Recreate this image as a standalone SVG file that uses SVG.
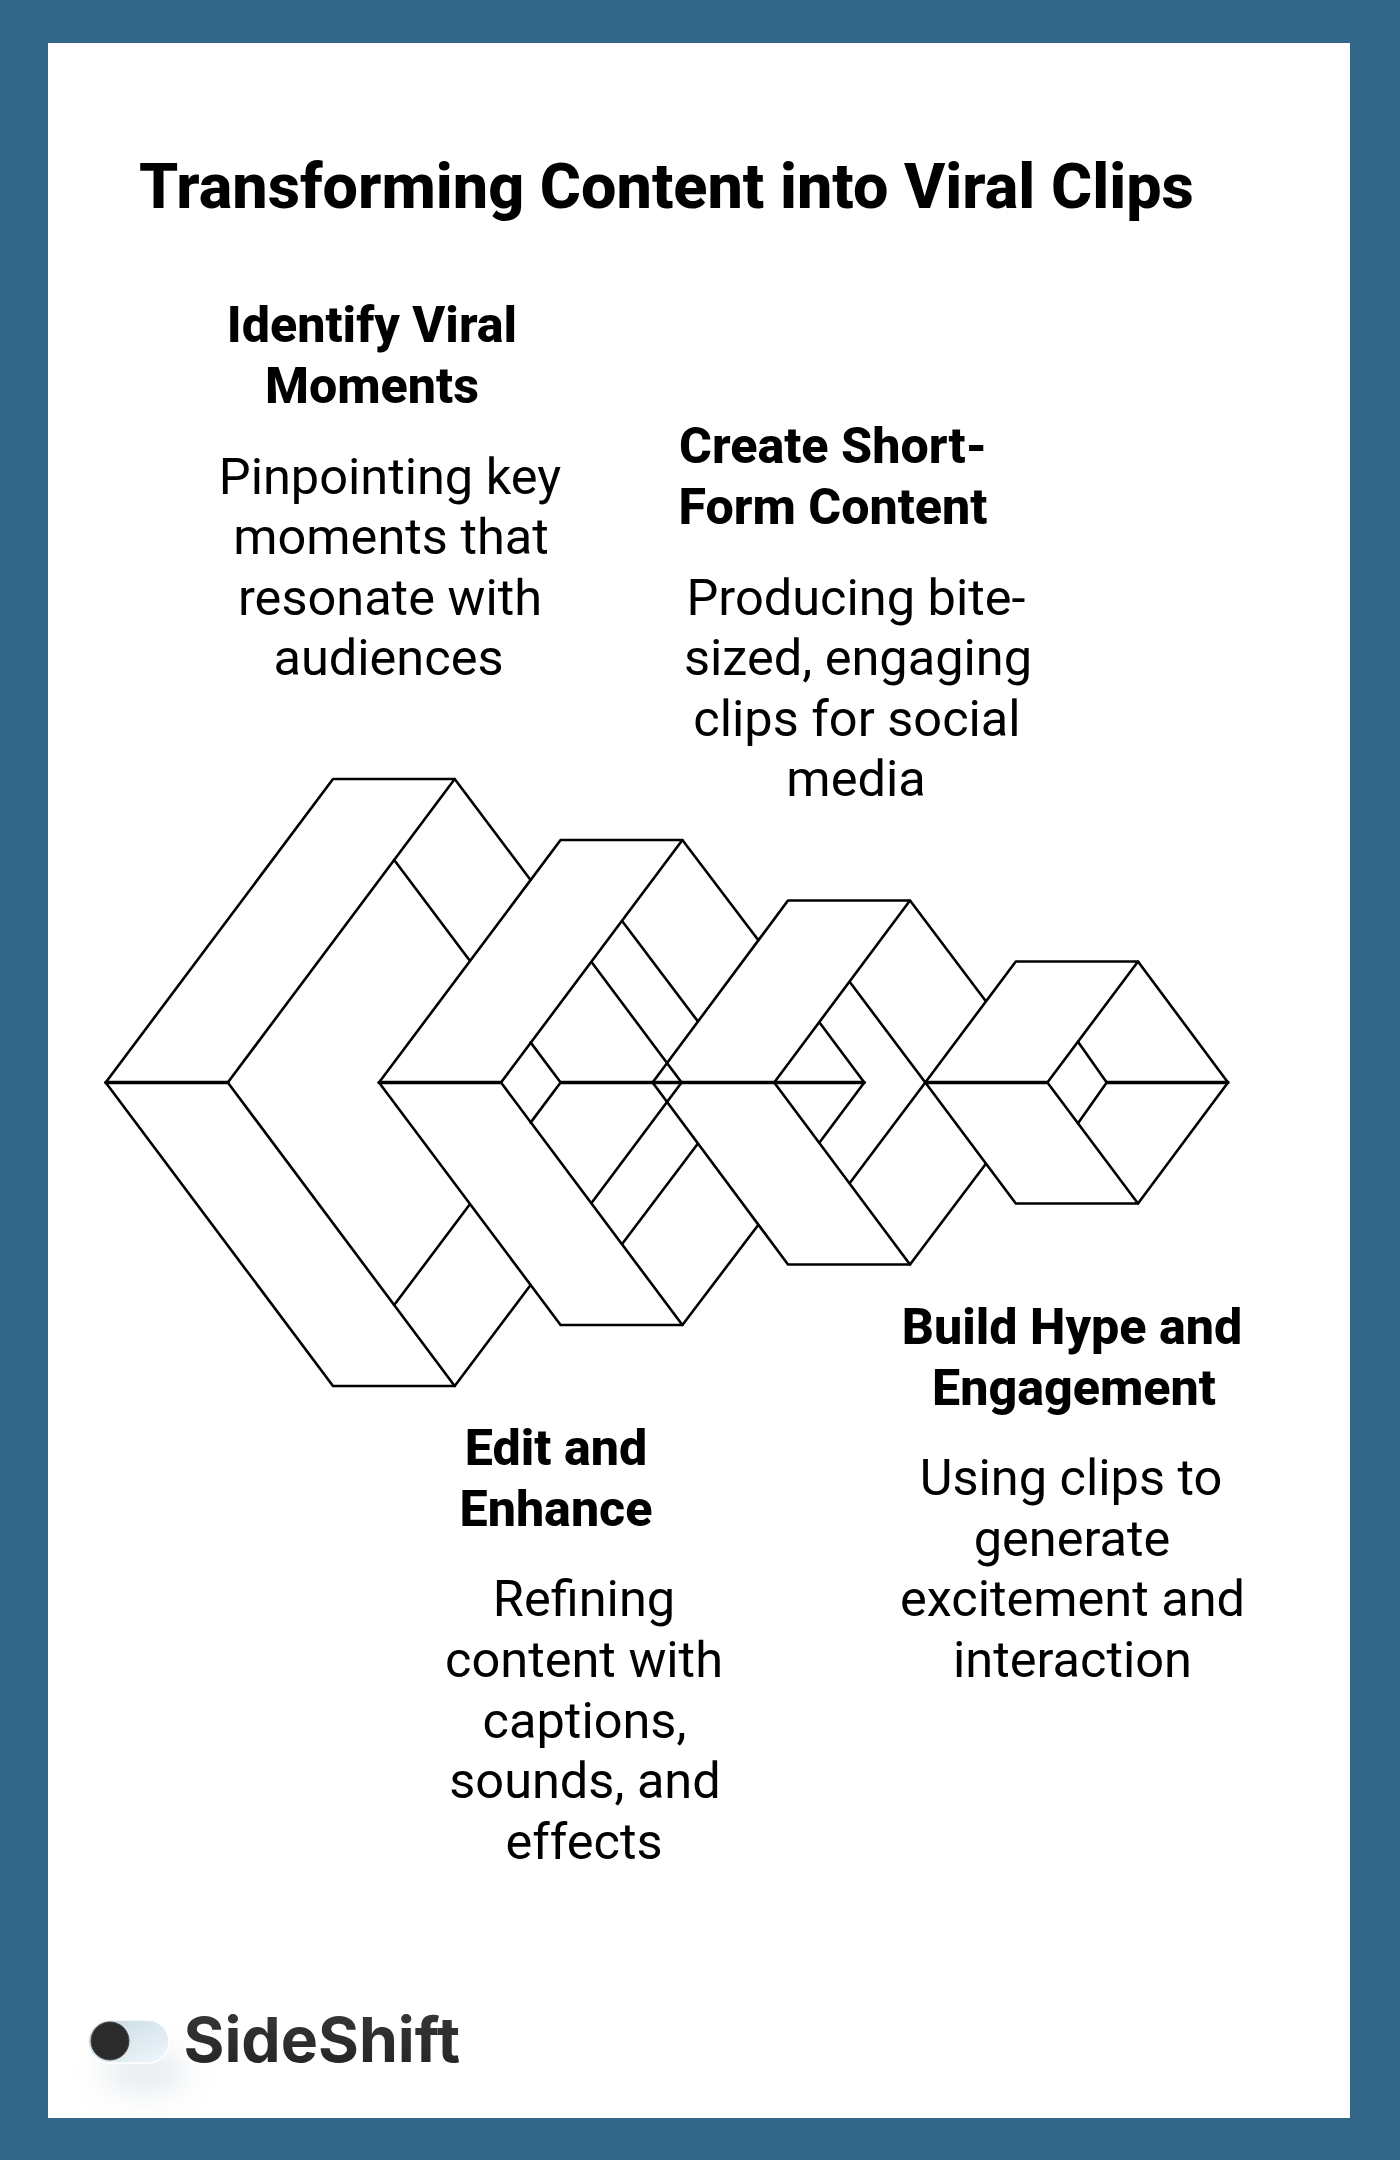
<svg xmlns="http://www.w3.org/2000/svg" width="1400" height="2160" viewBox="0 0 1400 2160">
<defs>
<style>
.h{font-family:Roboto,"Liberation Sans",sans-serif;font-weight:800;font-size:50.2px;fill:#000;text-anchor:middle}
.b{font-family:Roboto,"Liberation Sans",sans-serif;font-weight:400;font-size:50.5px;fill:#000;text-anchor:middle}
.t{font-family:Roboto,"Liberation Sans",sans-serif;font-weight:800;font-size:62.9px;fill:#000}
.l{fill:none;stroke:#000;stroke-width:2.6;stroke-linejoin:round;stroke-linecap:round}
.m{fill:none;stroke:#000;stroke-width:3.4;stroke-linecap:round}
</style>
<linearGradient id="tr" x1="0" y1="0" x2="1" y2="1"><stop offset="0" stop-color="#c6d8e3"/><stop offset="1" stop-color="#f0f7fb"/></linearGradient>
<linearGradient id="lg" x1="0" y1="0" x2="0" y2="1"><stop offset="0" stop-color="#3a3a3a"/><stop offset="1" stop-color="#222"/></linearGradient>
<filter id="bl" x="-80%" y="-80%" width="260%" height="260%"><feGaussianBlur stdDeviation="16"/></filter>
</defs>
<rect width="1400" height="2160" fill="#326789"/>
<rect x="48" y="43" width="1302" height="2075" fill="#fff"/>
<text id="title" class="t" x="139" y="208">Transforming Content into Viral Clips</text>
<g id="shape-1">
<path class="l" d="M227.8 1082.5L454.7 779H333L105.7 1082.5L333 1386H454.7L227.8 1082.5"/>
<path class="l" d="M454.7 779L530.6 880M394.2 860L469.3 960M454.7 1386L530.6 1285M394.2 1305L469.3 1205"/>
<path class="m" d="M105.7 1082.5H227.8"/>
</g>
<g id="shape-2">
<path class="l" d="M501 1082.5L682.4 840H560.6L379 1082.5L560.6 1325H682.4L501 1082.5"/>
<path class="l" d="M682.4 840L758.2 940M622.3 921.2L697.6 1021M591.5 962L681.6 1082.5L591.5 1203M530.6 1042.4L560.6 1082.5L530.6 1122.6M682.4 1325L758.2 1225M622.3 1243.8L697.6 1144"/>
<path class="m" d="M379 1082.5H501M560.6 1082.5H652.6"/>
</g>
<g id="shape-3">
<path class="l" d="M774.2 1082.5L910 900.5H788L652.6 1082.5L788 1264.5H910L774.2 1082.5"/>
<path class="l" d="M910 900.5L985.5 1000.7M850 982.3L925.3 1082.5L850 1182.7M819.7 1022.7L864.3 1082.5L819.7 1142.3M910 1264.5L985.5 1164.3"/>
<path class="m" d="M652.6 1082.5H864.3"/>
</g>
<g id="shape-4">
<path class="l" d="M1047.4 1082.5L1138 961.5H1015.8L925.3 1082.5L1015.8 1203.5H1138L1047.4 1082.5"/>
<path class="l" d="M1138 961.5L1228 1082.5L1138 1203.5M1078 1041.7L1106.7 1082.5L1078 1123.3"/>
<path class="m" d="M925.3 1082.5H1047.4M1106.7 1082.5H1228"/>
</g>
<g id="node-1">
<text class="h" x="372" y="341.5">Identify Viral</text>
<text class="h" x="372" y="402.5">Moments</text>
<text class="b" x="390" y="493.5">Pinpointing key</text>
<text class="b" x="391" y="554">moments that</text>
<text class="b" x="390" y="614.5">resonate with</text>
<text class="b" x="388.5" y="675">audiences</text>
</g>
<g id="node-2">
<text class="h" x="833" y="462.5">Create Short-</text>
<text class="h" x="833" y="523.5">Form Content</text>
<text class="b" x="856" y="614.5">Producing bite-</text>
<text class="b" x="858" y="675">sized, engaging</text>
<text class="b" x="857" y="735.5">clips for social</text>
<text class="b" x="856" y="796">media</text>
</g>
<g id="node-3">
<text class="h" x="556" y="1464.5">Edit and</text>
<text class="h" x="556" y="1525.5">Enhance</text>
<text class="b" x="584" y="1616">Refining</text>
<text class="b" x="584" y="1677">content with</text>
<text class="b" x="584.5" y="1737.5">captions,</text>
<text class="b" x="585" y="1798">sounds, and</text>
<text class="b" x="584" y="1858.5">effects</text>
</g>
<g id="node-4">
<text class="h" x="1072" y="1343.5">Build Hype and</text>
<text class="h" x="1074" y="1404.5">Engagement</text>
<text class="b" x="1071" y="1494.5">Using clips to</text>
<text class="b" x="1072" y="1555.5">generate</text>
<text class="b" x="1072.5" y="1616">excitement and</text>
<text class="b" x="1072.5" y="1677">interaction</text>
</g>
<g id="logo">
<ellipse cx="145" cy="2072" rx="44" ry="20" fill="#a9bac6" opacity=".3" filter="url(#bl)"/>
<rect x="88" y="2020" width="81" height="43" rx="21.5" fill="url(#tr)" stroke="#fff" stroke-width="1.5"/>
<circle cx="110" cy="2041" r="19" fill="#2b2b2b" stroke="#444" stroke-width="1"/>
<text x="183.5" y="2062" font-family="Inter,'Liberation Sans',sans-serif" font-weight="700" font-size="62.5" fill="url(#lg)">SideShift</text>
</g>
</svg>
